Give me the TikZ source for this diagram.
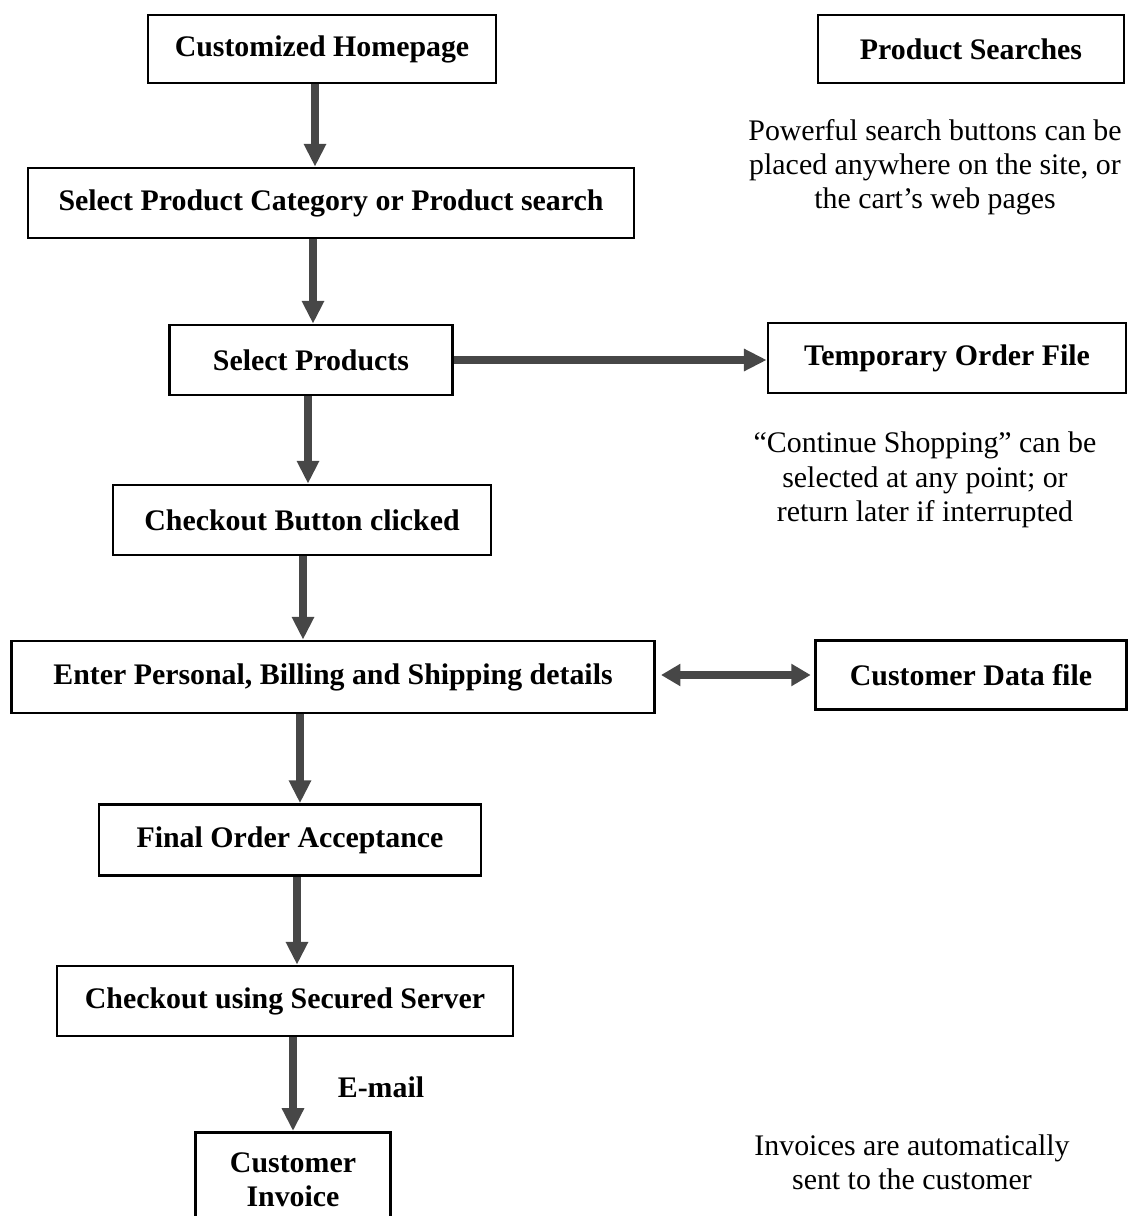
\documentclass[tikz,border=0pt]{standalone}
\usepackage{fontspec}
\setmainfont{Liberation Serif}
\usetikzlibrary{arrows.meta}

\tikzset{
    stepbox/.style={draw, line width=1.5pt, inner sep=2pt, align=center,
        font=\bfseries\fontsize{17}{19}\selectfont},
    flow/.style={draw=black!72, line width=4.5pt, -{Triangle[length=13pt,width=12pt]}},
    twoflow/.style={draw=black!72, line width=4pt, {Triangle[length=11pt,width=12pt]}-{Triangle[length=11pt,width=12pt]}},
    note/.style={align=center, font=\fontsize{17}{19.5}\selectfont}
}

\begin{document}
\begin{tikzpicture}[x=0.02cm,y=-0.02cm]
        \useasboundingbox (0,0) rectangle (1129,1216);

        % main column
        \node[stepbox, minimum width=6.96cm, minimum height=1.36cm] (home) at (322,49) {Customized Homepage};
        \node[stepbox, minimum width=12.12cm, minimum height=1.4cm] (category) at (331,203) {Select Product Category or Product search};
        \node[stepbox, minimum width=5.66cm, minimum height=1.4cm] (products) at (311,360) {Select Products};
        \node[stepbox, minimum width=7.56cm, minimum height=1.4cm] (checkout) at (302,520) {Checkout Button clicked};
        \node[stepbox, minimum width=12.86cm, minimum height=1.44cm] (details) at (333,677) {Enter Personal, Billing and Shipping details};
        \node[stepbox, minimum width=7.64cm, minimum height=1.42cm] (final) at (290,840) {Final Order Acceptance};
        \node[stepbox, minimum width=9.12cm, minimum height=1.4cm] (secured) at (285,1001) {Checkout using Secured Server};
        \node[stepbox, minimum width=3.9cm, minimum height=1.9cm, anchor=north] (invoice) at (293,1131) {Customer\\Invoice};

        % right column
        \node[stepbox, minimum width=6.12cm, minimum height=1.36cm] (search) at (971,49) {Product Searches};
        \node[stepbox, minimum width=7.16cm, minimum height=1.4cm] (temp) at (947,358) {Temporary Order File};
        \node[stepbox, minimum width=6.22cm, minimum height=1.38cm] (custdata) at (971,675) {Customer Data file};

        \node[note] (searchnote) at (935,167) {Powerful search buttons can be\\placed anywhere on the site, or\\the cart's web pages};
        \node[note] (shopnote) at (925,480) {``Continue Shopping'' can be\\selected at any point; or\\return later if interrupted};
        \node[note] (invoicenote) at (912,1162) {Invoices are automatically\\sent to the customer};

        % arrows
        \draw[flow] (home.south -| 315,0) -- (category.north -| 315,0);
        \draw[flow] (category.south -| 313,0) -- (products.north -| 313,0);
        \draw[flow] (products.south -| 308,0) -- (checkout.north -| 308,0);
        \draw[flow] (checkout.south -| 303,0) -- (details.north -| 303,0);
        \draw[flow] (details.south -| 300,0) -- (final.north -| 300,0);
        \draw[flow] (final.south -| 297,0) -- (secured.north -| 297,0);
        \draw[flow] (secured.south -| 293,0) -- (invoice.north);
        \node[font=\bfseries\fontsize{17}{19}\selectfont] (email) at (381,1087) {E-mail};

        \draw[flow] (products.east) -- (products.east -| temp.west);
        \draw[twoflow] ([xshift=3pt]details.east |- custdata.west) -- ([xshift=-2pt]custdata.west);
\end{tikzpicture}
\end{document}
